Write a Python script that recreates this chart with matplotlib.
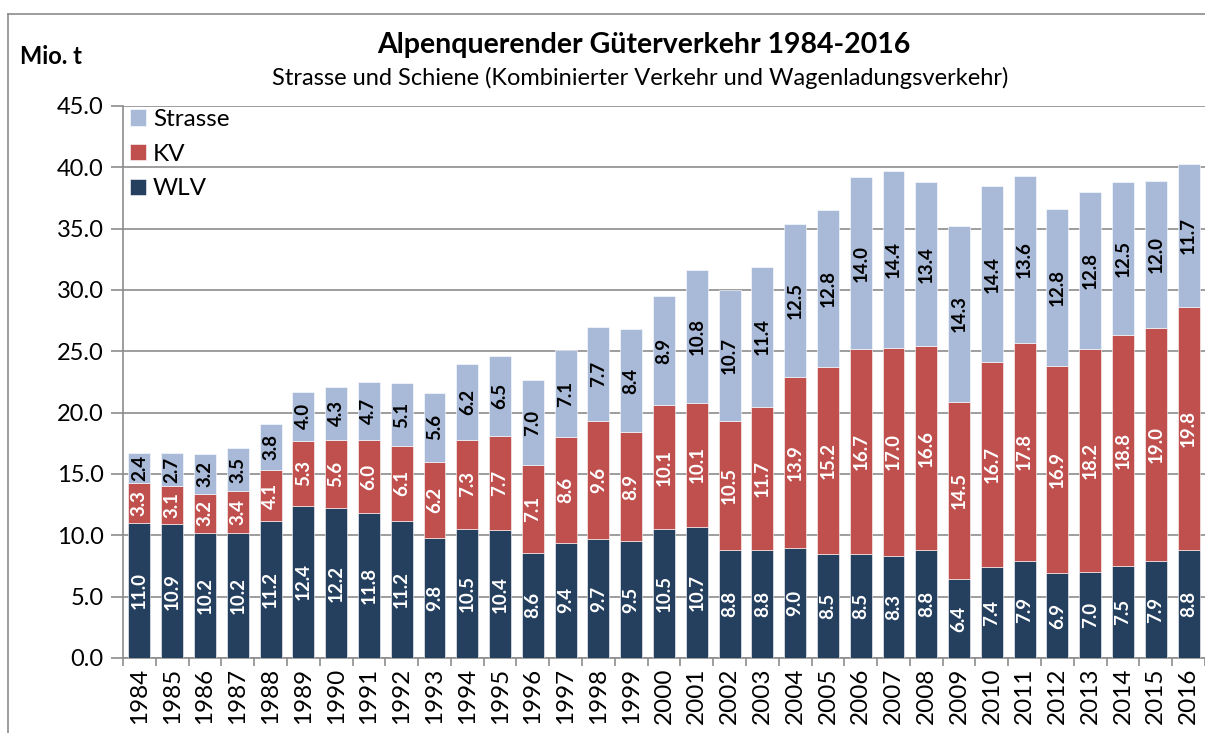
import matplotlib
matplotlib.use("Agg")
import matplotlib.pyplot as plt
from matplotlib.lines import Line2D
import numpy as np

plt.rcParams['font.family'] = ['Lato', 'DejaVu Sans']

years = [str(y) for y in range(1984, 2017)]
wlv = [11.0, 10.9, 10.2, 10.2, 11.2, 12.4, 12.2, 11.8, 11.2, 9.8, 10.5, 10.4, 8.6, 9.4, 9.7, 9.5,
       10.5, 10.7, 8.8, 8.8, 9.0, 8.5, 8.5, 8.3, 8.8, 6.4, 7.4, 7.9, 6.9, 7.0, 7.5, 7.9, 8.8]
kv = [3.3, 3.1, 3.2, 3.4, 4.1, 5.3, 5.6, 6.0, 6.1, 6.2, 7.3, 7.7, 7.1, 8.6, 9.6, 8.9,
      10.1, 10.1, 10.5, 11.7, 13.9, 15.2, 16.7, 17.0, 16.6, 14.5, 16.7, 17.8, 16.9, 18.2, 18.8, 19.0, 19.8]
strasse = [2.4, 2.7, 3.2, 3.5, 3.8, 4.0, 4.3, 4.7, 5.1, 5.6, 6.2, 6.5, 7.0, 7.1, 7.7, 8.4,
           8.9, 10.8, 10.7, 11.4, 12.5, 12.8, 14.0, 14.4, 13.4, 14.3, 14.4, 13.6, 12.8, 12.8, 12.5, 12.0, 11.7]
yticks = [0, 5, 10, 15, 20, 25, 30, 35, 40, 45]

c_wlv = '#253F5F'
c_kv = '#C0504D'
c_str = '#A9B9D8'

fig = plt.figure(figsize=(12.05, 7.33), dpi=100)
ax = fig.add_axes([123/1205, 1-658/733, 1-123/1205, (658-106)/733])

x = np.arange(len(years))
w = 0.67
wlv_a = np.array(wlv); kv_a = np.array(kv); str_a = np.array(strasse)
b1 = ax.bar(x, wlv_a, w, color=c_wlv, edgecolor='white', linewidth=0.4, zorder=3, label='WLV')
b2 = ax.bar(x, kv_a, w, bottom=wlv_a, color=c_kv, edgecolor='white', linewidth=0.4, zorder=3, label='KV')
b3 = ax.bar(x, str_a, w, bottom=wlv_a+kv_a, color=c_str, edgecolor='white', linewidth=0.4, zorder=3, label='Strasse')

lab_fs = 13.5
for i in range(len(years)):
    ax.text(x[i], wlv_a[i]/2, f"{wlv[i]:.1f}", rotation=90, ha='center', va='center',
            color='white', fontsize=lab_fs, fontweight='bold', zorder=4)
    ax.text(x[i], wlv_a[i] + kv_a[i]/2, f"{kv[i]:.1f}", rotation=90, ha='center', va='center',
            color='white', fontsize=lab_fs, fontweight='bold', zorder=4)
    ax.text(x[i], wlv_a[i] + kv_a[i] + str_a[i]/2, f"{strasse[i]:.1f}", rotation=90, ha='center', va='center',
            color='black', fontsize=lab_fs, fontweight='bold', zorder=4)

ax.set_xlim(-0.5, len(years)-0.5)
ax.set_ylim(0, 45)
ax.set_yticks(yticks)
ax.set_yticklabels([f"{v:.1f}" for v in yticks], fontsize=17)
ax.yaxis.grid(True, color='#8C8C8C', linewidth=1.2, zorder=0)
ax.set_axisbelow(True)

ax.set_xticks(x)
ax.set_xticklabels(years, rotation=90, fontsize=17.5)
ax.tick_params(axis='x', length=0, pad=7)
ax.set_xticks(np.arange(-0.5, len(years), 1), minor=True)
ax.tick_params(axis='x', which='minor', length=6, width=1.2, color='#8C8C8C', direction='out')
ax.tick_params(axis='y', length=9, width=1.2, color='#8C8C8C', direction='out', pad=5)

for s in ['top', 'right']:
    ax.spines[s].set_visible(False)
for s in ['left', 'bottom']:
    ax.spines[s].set_color('#8C8C8C')
    ax.spines[s].set_linewidth(1.2)

handles = [b3, b2, b1]
ax.legend(handles, ['Strasse', 'KV', 'WLV'], loc='upper left', bbox_to_anchor=(7/1082, 1.0 - 3/552),
          frameon=False, fontsize=17.5, handlelength=0.65, handleheight=0.65, handletextpad=0.3,
          labelspacing=0.56, borderaxespad=0.0, borderpad=0.0)

fig.text(644/1205, 1-45/733, 'Alpenquerender Güterverkehr 1984-2016', ha='center', va='center',
         fontsize=20.5, fontweight='bold')
fig.text(640/1205, 1-78/733, 'Strasse und Schiene (Kombinierter Verkehr und Wagenladungsverkehr)',
         ha='center', va='center', fontsize=17)
fig.text(20/1205, 1-57/733, 'Mio. t', ha='left', va='center', fontsize=17, fontweight='bold')

fig.add_artist(Line2D([8/1205, 1], [1-14/733, 1-14/733], transform=fig.transFigure, color='#8C8C8C', linewidth=1.2))
fig.add_artist(Line2D([8/1205, 8/1205], [0, 1-14/733], transform=fig.transFigure, color='#8C8C8C', linewidth=1.2))

fig.savefig('out.png', dpi=100)
